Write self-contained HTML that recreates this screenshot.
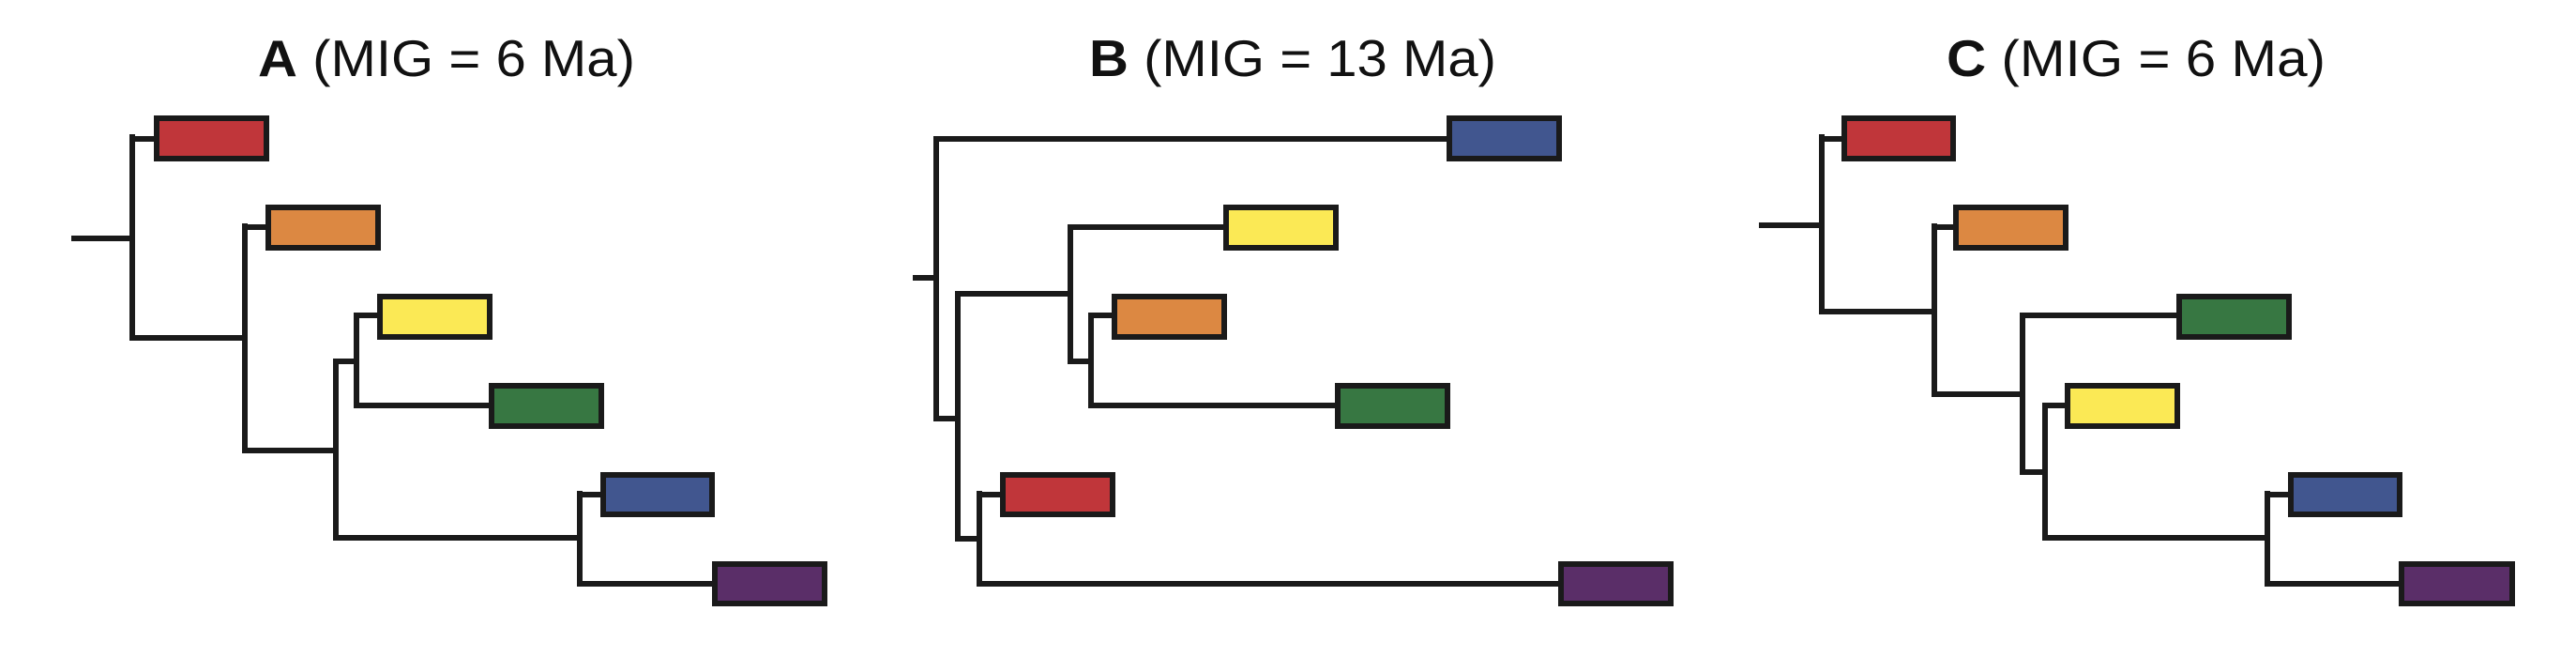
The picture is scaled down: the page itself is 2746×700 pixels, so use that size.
<!DOCTYPE html>
<html><head><meta charset="utf-8"><style>
html,body{margin:0;padding:0;background:#fff;}
svg{display:block;}
text{font-family:"Liberation Sans",Arial,sans-serif;font-size:55px;fill:#111;}
</style></head><body>
<svg width="2746" height="700" viewBox="0 0 2746 700" xmlns="http://www.w3.org/2000/svg">
<g fill="none" stroke="#1a1a1a" stroke-width="6" stroke-linecap="square">
<path d="M79 254H141 M141 146V360 M141 148H164 M141 360H261 M261 241V480 M261 242H283 M261 480H358 M358 385V573 M358 385H380 M380 336V432 M380 336H402 M380 432H521 M358 573H618 M618 526V622 M618 527H640 M618 622H759"/>
<path d="M976 296H998 M998 148V446 M998 148H1542 M998 446H1021 M1021 313V574 M1021 313H1141 M1141 242V385 M1141 242H1304 M1141 385H1163 M1163 336V432 M1163 336H1185 M1163 432H1423 M1021 574H1044 M1044 526V622 M1044 527H1066 M1044 622H1661"/>
<path d="M1878 240H1942 M1942 146V332 M1942 148H1963 M1942 332H2062 M2062 241V420 M2062 242H2082 M2062 420H2156 M2156 336V503 M2156 336H2320 M2156 503H2180 M2180 432V573 M2180 432H2201 M2180 573H2417 M2417 526V622 M2417 527H2439 M2417 622H2557"/>
</g>
<g stroke="#1a1a1a" stroke-width="6">
<rect x="167" y="126" width="117" height="43" fill="#c0363a"/>
<rect x="286" y="221" width="117" height="43" fill="#dc8842"/>
<rect x="405" y="316" width="117" height="43" fill="#fbe955"/>
<rect x="524" y="411" width="117" height="43" fill="#377742"/>
<rect x="643" y="506" width="116" height="42" fill="#41568f"/>
<rect x="762" y="601" width="117" height="42" fill="#5a2e68"/>
<rect x="1545" y="126" width="117" height="43" fill="#41568f"/>
<rect x="1307" y="221" width="117" height="43" fill="#fbe955"/>
<rect x="1188" y="316" width="117" height="43" fill="#dc8842"/>
<rect x="1426" y="411" width="117" height="43" fill="#377742"/>
<rect x="1069" y="506" width="117" height="42" fill="#c0363a"/>
<rect x="1664" y="601" width="117" height="42" fill="#5a2e68"/>
<rect x="1966" y="126" width="116" height="43" fill="#c0363a"/>
<rect x="2085" y="221" width="117" height="43" fill="#dc8842"/>
<rect x="2323" y="316" width="117" height="43" fill="#377742"/>
<rect x="2204" y="411" width="117" height="43" fill="#fbe955"/>
<rect x="2442" y="506" width="116" height="42" fill="#41568f"/>
<rect x="2560" y="601" width="118" height="42" fill="#5a2e68"/>
</g>
<text x="275" y="81" textLength="402" lengthAdjust="spacingAndGlyphs"><tspan font-weight="bold">A</tspan> (MIG = 6 Ma)</text>
<text x="1161" y="81" textLength="434" lengthAdjust="spacingAndGlyphs"><tspan font-weight="bold">B</tspan> (MIG = 13 Ma)</text>
<text x="2075" y="81" textLength="404" lengthAdjust="spacingAndGlyphs"><tspan font-weight="bold">C</tspan> (MIG = 6 Ma)</text>
</svg>
</body></html>
